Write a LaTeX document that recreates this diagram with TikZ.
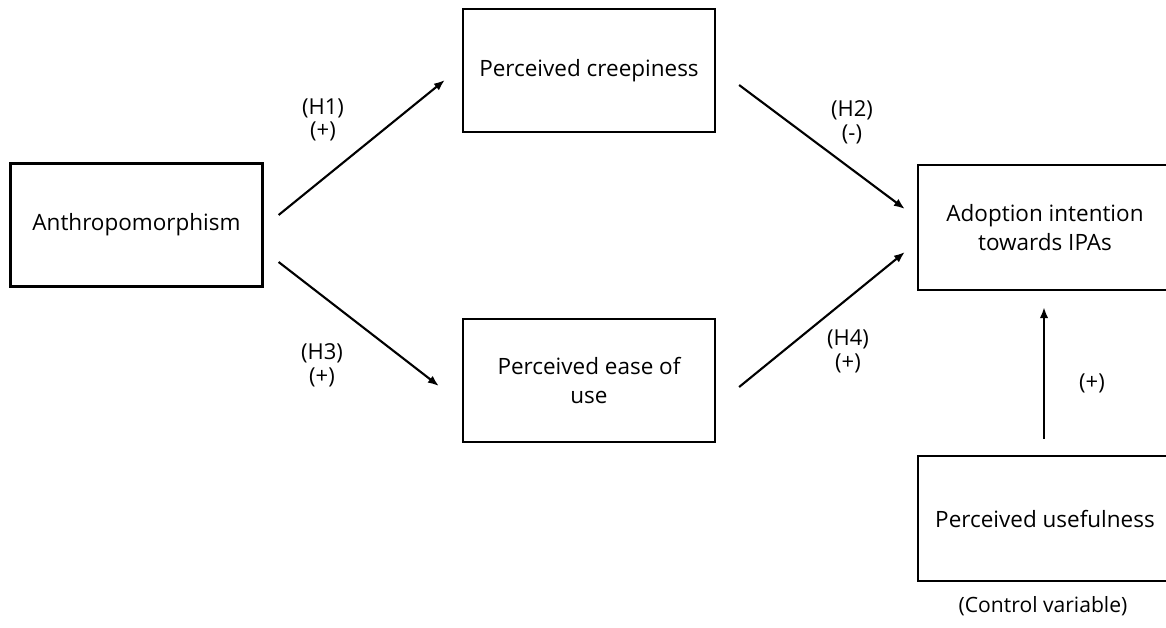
\documentclass[tikz,border=0pt]{standalone}
\usepackage{fontspec}
\setmainfont{Open Sans}
\usepackage{xcolor}
\usepackage{tikz}
\usetikzlibrary{positioning, arrows.meta, calc}

\tikzset{
  construct/.style={rectangle, draw, line width=1.3pt, minimum width=5.04cm, minimum height=2.46cm, align=center, font=\fontsize{12.8}{16.5}\selectfont},
  cutbox/.style={construct, draw=none},
  link/.style={-{Latex[length=0.22cm, width=0.17cm]}, line width=1.2pt},
  hyp/.style={align=center, font=\fontsize{12.5}{13.5}\selectfont}
}

\begin{document}
\begin{tikzpicture}[x=0.02cm, y=-0.02cm]
\useasboundingbox (0,0) rectangle (1166,627);
\node [construct] (anthro) at (136.5,225) {Anthropomorphism};
\node [construct] (creep) at (589,70.5) {Perceived creepiness};
\node [construct] (ease) at (589,380.5) {Perceived ease of\\use};
\node [cutbox] (adopt) at (1045,227.5) {Adoption intention\\towards IPAs};
\node [cutbox] (useful) at (1045,518.5) {Perceived usefulness};
\node [font=\fontsize{12}{14}\selectfont] (control) at (1043,606) {(Control variable)};

% right-hand boxes run past the page edge
\draw [line width=1.3pt] ([xshift=0.4cm]adopt.north east) -- (adopt.north west) -- (adopt.south west) -- ([xshift=0.4cm]adopt.south east);
\draw [line width=1.3pt] ([xshift=0.4cm]useful.north east) -- (useful.north west) -- (useful.south west) -- ([xshift=0.4cm]useful.south east);

\draw [link] ([shift={(15,-10)}]anthro.east) -- ([shift={(-17,9.5)}]creep.west);
\draw [link] ([shift={(15,37)}]anthro.east) -- ([shift={(-23,5.5)}]ease.west);
\draw [link] ([shift={(23,14.5)}]creep.east) -- ([shift={(-13,-18.5)}]adopt.west);
\draw [link] ([shift={(23,6.5)}]ease.east) -- ([shift={(-13,24.5)}]adopt.west);
\draw [link] ([shift={(-1,-17)}]useful.north) -- ([shift={(-1,17)}]adopt.south);

% hypothesis labels
\node [hyp] (h1) at (323,120) {(H1)\\(+)};
\node [hyp] (h2) at (852,122) {(H2)\\(-)};
\node [hyp] (h3) at (322,365) {(H3)\\(+)};
\node [hyp] (h4) at (848,351) {(H4)\\(+)};
\node [hyp] (ctrl) at (1092,383) {(+)};

\end{tikzpicture}
\end{document}
